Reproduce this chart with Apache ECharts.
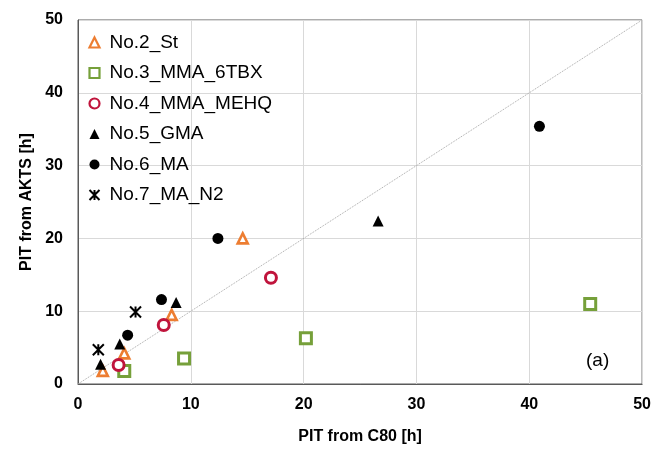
<!DOCTYPE html>
<html>
<head>
<meta charset="utf-8">
<script src="https://cdn.jsdelivr.net/npm/echarts@6/dist/echarts.min.js"></script>
<style>
  html, body { margin: 0; padding: 0; background: #fff; }
  #chart { width: 654px; height: 450px; }
</style>
</head>
<body>
<div id="chart"></div>
<script>
"use strict";

// 各系列数据 [C80, AKTS]
const st = [[2.2, 1.8], [4.1, 4.2], [8.3, 9.5], [14.6, 20.0]];
const mma6tbx = [[4.1, 1.8], [9.4, 3.5], [20.2, 6.3], [45.4, 11.0]];
const mmaMehq = [[3.6, 2.6], [7.6, 8.1], [17.1, 14.6]];
const gma = [[2.0, 2.7], [3.7, 5.5], [8.7, 11.2], [26.6, 22.4]];
const ma = [[4.4, 6.7], [7.4, 11.6], [12.4, 20.0], [40.9, 35.4]];
const maN2 = [[1.8, 4.7], [5.1, 9.9]];
const diagonal = [[0, 0], [50, 50]];

const seriesNames = ["No.2_St", "No.3_MMA_6TBX", "No.4_MMA_MEHQ", "No.5_GMA", "No.6_MA", "No.7_MA_N2"];
const axisTicks = [0, 10, 20, 30, 40, 50];

const font = "Liberation Sans";
// 星号标记 (X + 竖线)
const starPath = "path://M0 0 L10 10 M10 0 L0 10 M5 0 L5 10";

const hollow = (color, width) => ({ color: "#fff", borderColor: color, borderWidth: width, opacity: 1 });
const solid = { color: "#000", opacity: 1 };

// 图例空心标记加粗
const legendItems = seriesNames.map((name, i) =>
  i < 3 ? { name, itemStyle: { borderWidth: 2.2 } } : { name }
);

const chart = echarts.init(document.getElementById("chart"));
chart.setOption({
  animation: false,
  grid: {
    left: 78, right: 8, top: 20, bottom: 63,
    show: true, borderColor: "#595959", borderWidth: 1,
  },
  legend: {
    orient: "vertical",
    left: 82, top: 28,
    itemWidth: 10, itemHeight: 10, itemGap: 11.5,
    textStyle: { fontFamily: font, fontSize: 19, color: "#000", padding: [0, 0, 0, 5] },
    data: legendItems,
  },
  xAxis: {
    type: "value", min: axisTicks[0], max: axisTicks[axisTicks.length - 1], interval: 10,
    name: "PIT from C80 [h]", nameLocation: "middle", nameGap: 45,
    nameTextStyle: { fontFamily: font, fontSize: 16, fontWeight: "bold", color: "#000" },
    axisLine: { lineStyle: { color: "#595959" } },
    axisTick: { show: false },
    axisLabel: { fontFamily: font, fontSize: 16, fontWeight: "bold", color: "#000", margin: 13 },
    splitLine: { lineStyle: { color: "#D9D9D9" } },
  },
  yAxis: {
    type: "value", min: axisTicks[0], max: axisTicks[axisTicks.length - 1], interval: 10,
    name: "PIT from AKTS [h]", nameLocation: "middle", nameGap: 43,
    nameTextStyle: { fontFamily: font, fontSize: 16, fontWeight: "bold", color: "#000" },
    axisLine: { lineStyle: { color: "#595959" } },
    axisTick: { show: false },
    axisLabel: { fontFamily: font, fontSize: 16, fontWeight: "bold", color: "#000", margin: 15 },
    splitLine: { lineStyle: { color: "#D9D9D9" } },
  },
  graphic: [{
    type: "text", left: 586, top: 351,
    style: { text: "(a)", fontFamily: font, fontSize: 19, fill: "#000" },
  }],
  series: [
    {
      // 对角线 y = x
      type: "line", data: diagonal, symbol: "none", silent: true,
      lineStyle: { color: "#A6A6A6", width: 1, type: "dotted" }, z: 1,
    },
    {
      name: seriesNames[0], type: "scatter", data: st,
      symbol: "triangle", symbolSize: 10, itemStyle: hollow("#ED7D31", 2.6),
    },
    {
      name: seriesNames[1], type: "scatter", data: mma6tbx,
      symbol: "rect", symbolSize: 11, itemStyle: hollow("#76A03A", 3),
    },
    {
      name: seriesNames[2], type: "scatter", data: mmaMehq,
      symbol: "circle", symbolSize: 11, itemStyle: hollow("#C0143C", 3),
    },
    {
      name: seriesNames[3], type: "scatter", data: gma,
      symbol: "triangle", symbolSize: 11, itemStyle: solid,
    },
    {
      name: seriesNames[4], type: "scatter", data: ma,
      symbol: "circle", symbolSize: 11, itemStyle: solid,
    },
    {
      name: seriesNames[5], type: "scatter", data: maN2,
      symbol: starPath, symbolSize: 11,
      itemStyle: { color: "none", borderColor: "#000", borderWidth: 2, opacity: 1 },
    },
  ],
});
</script>
</body>
</html>
